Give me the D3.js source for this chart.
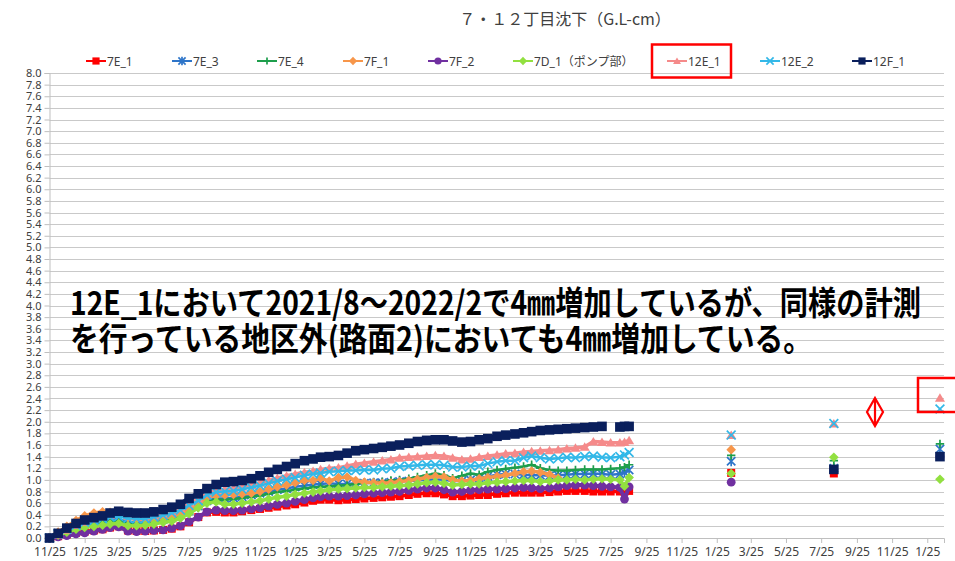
<!DOCTYPE html>
<html><head><meta charset="utf-8">
<script src="https://cdn.jsdelivr.net/npm/d3@7"></script>
<style>html,body{margin:0;padding:0;background:#fff;}svg{display:block;}</style>
</head><body>
<svg id="chart" width="955" height="561"></svg>
<script>
// ---------------- DATA ----------------
const titleText = "７・１２丁目沈下（G.L-cm）";
const seriesNames = ["7E_1","7E_3","7E_4","7F_1","7F_2","7D_1（ポンプ部）","12E_1","12E_2","12F_1"];

const dates = [
"2017-11-25","2017-12-10","2017-12-25","2018-01-10","2018-01-25","2018-02-10","2018-02-25","2018-03-10","2018-03-25","2018-04-10",
"2018-04-25","2018-05-10","2018-05-25","2018-06-10","2018-06-25","2018-07-10","2018-07-25","2018-08-10","2018-08-25","2018-09-10",
"2018-09-25","2018-10-10","2018-10-25","2018-11-10","2018-11-25","2018-12-10","2018-12-25","2019-01-10","2019-01-25","2019-02-10",
"2019-02-25","2019-03-10","2019-03-25","2019-04-10","2019-04-25","2019-05-10","2019-05-25","2019-06-10","2019-06-25","2019-07-10",
"2019-07-25","2019-08-10","2019-08-25","2019-09-10","2019-09-25","2019-10-10","2019-10-25","2019-11-10","2019-11-25","2019-12-10",
"2019-12-25","2020-01-10","2020-01-25","2020-02-10","2020-02-25","2020-03-10","2020-03-25","2020-04-10","2020-04-25","2020-05-10",
"2020-05-25","2020-06-10","2020-06-25","2020-07-10","2020-07-25","2020-08-10","2020-08-18","2020-08-26"];

const v7E_1 = [0,0.03,0.06,0.09,0.11,0.13,0.15,0.18,0.20,0.13,
 0.12,0.12,0.13,0.14,0.16,0.20,0.27,0.36,0.44,0.45,
 0.44,0.44,0.46,0.48,0.50,0.52,0.54,0.56,0.58,0.61,
 0.64,0.66,0.66,0.65,0.66,0.67,0.68,0.69,0.70,0.71,
 0.72,0.74,0.76,0.77,0.77,0.75,0.72,0.72,0.73,0.74,
 0.74,0.76,0.77,0.78,0.78,0.78,0.78,0.79,0.80,0.81,
 0.81,0.81,0.80,0.80,0.80,0.80,0.80,0.81];
const v7E_3 = [0,0.08,0.15,0.20,0.25,0.28,0.30,0.32,0.33,0.28,
 0.27,0.28,0.30,0.32,0.35,0.40,0.47,0.55,0.64,0.68,
 0.68,0.69,0.71,0.74,0.77,0.80,0.83,0.85,0.88,0.90,
 0.92,0.93,0.94,0.93,0.93,0.94,0.94,0.95,0.95,0.96,
 0.97,0.98,0.99,1.00,1.01,1.00,0.98,0.98,1.00,1.03,
 1.06,1.09,1.10,1.10,1.09,1.08,1.08,1.07,1.08,1.09,
 1.10,1.10,1.11,1.10,1.09,1.10,1.13,1.17];
const v7E_4 = [0,0.10,0.18,0.22,0.24,0.26,0.27,0.28,0.29,0.24,
 0.23,0.24,0.26,0.28,0.31,0.36,0.43,0.52,0.62,0.66,
 0.66,0.67,0.69,0.71,0.73,0.76,0.79,0.81,0.83,0.85,
 0.87,0.88,0.89,0.90,0.91,0.93,0.95,0.96,0.97,0.99,
 1.00,1.02,1.05,1.08,1.11,1.08,1.03,1.07,1.11,1.09,
 1.14,1.17,1.19,1.21,1.23,1.26,1.20,1.17,1.16,1.16,
 1.17,1.18,1.18,1.18,1.19,1.20,1.22,1.26];
const v7F_1 = [0,0.10,0.20,0.30,0.38,0.43,0.45,0.44,0.42,0.35,
 0.32,0.31,0.32,0.34,0.37,0.41,0.48,0.58,0.70,0.73,
 0.74,0.75,0.76,0.77,0.80,0.84,0.88,0.91,0.95,0.99,
 0.99,1.03,0.98,1.04,1.05,0.99,0.96,0.95,0.94,0.95,
 0.97,0.99,1.01,1.04,1.06,1.05,1.00,0.98,0.99,1.02,
 1.04,1.06,1.08,1.11,1.14,1.15,1.13,1.09,1.03,null,
 null,null,null,null,null,null,null,null];
const v7F_2 = [0,0.02,0.04,0.07,0.09,0.12,0.15,0.18,0.19,0.12,
 0.11,0.12,0.13,0.14,0.17,0.21,0.28,0.36,0.45,0.48,
 0.47,0.47,0.48,0.50,0.52,0.55,0.58,0.60,0.63,0.66,
 0.69,0.71,0.72,0.72,0.73,0.74,0.76,0.77,0.78,0.79,
 0.80,0.82,0.84,0.86,0.86,0.83,0.79,0.80,0.82,0.83,
 0.84,0.84,0.85,0.86,0.87,0.86,0.85,0.86,0.88,0.90,
 0.91,0.91,0.90,0.89,0.88,0.87,0.67,0.88];
const v7D_1 = [0,0.05,0.10,0.15,0.18,0.20,0.22,0.24,0.25,0.21,
 0.21,0.22,0.24,0.27,0.29,0.34,0.42,0.52,0.60,0.62,
 0.58,0.58,0.60,0.62,0.64,0.67,0.70,0.72,0.75,0.77,
 0.79,0.81,0.83,0.84,0.85,0.86,0.87,0.87,0.88,0.89,
 0.90,0.91,0.93,0.95,0.96,0.94,0.91,0.92,0.93,0.93,
 0.95,0.96,0.97,0.98,0.99,0.99,0.97,0.98,1.00,1.00,
 1.01,1.00,1.01,1.02,1.01,1.00,0.89,1.04];
const v12E_1 = [0,0.06,0.14,0.22,0.28,0.33,0.36,0.40,0.42,0.38,
 0.37,0.37,0.39,0.42,0.46,0.51,0.60,0.68,0.77,0.82,
 0.84,0.85,0.88,0.91,0.95,0.99,1.03,1.07,1.10,1.13,
 1.15,1.18,1.20,1.21,1.24,1.27,1.29,1.31,1.33,1.35,
 1.38,1.39,1.40,1.41,1.42,1.41,1.38,1.35,1.36,1.39,
 1.41,1.43,1.45,1.46,1.48,1.49,1.50,1.51,1.52,1.54,
 1.55,1.57,1.66,1.65,1.64,1.64,1.65,1.68];
const v12E_2 = [0,0.07,0.15,0.22,0.27,0.30,0.33,0.36,0.37,0.34,
 0.33,0.33,0.36,0.39,0.43,0.48,0.56,0.64,0.74,0.79,
 0.80,0.81,0.84,0.87,0.90,0.94,0.98,1.01,1.04,1.08,
 1.10,1.12,1.14,1.15,1.16,1.16,1.17,1.17,1.19,1.20,
 1.23,1.24,1.25,1.26,1.26,1.25,1.22,1.22,1.24,1.24,
 1.28,1.31,1.33,1.33,1.38,1.41,1.38,1.36,1.37,1.39,
 1.38,1.40,1.41,1.39,1.38,1.40,1.43,1.47];
const v12F_1 = [0,0.08,0.17,0.25,0.31,0.35,0.38,0.43,0.46,0.44,
 0.43,0.43,0.45,0.49,0.53,0.58,0.68,0.76,0.85,0.92,
 0.96,0.97,0.99,1.02,1.07,1.13,1.18,1.23,1.28,1.33,
 1.36,1.39,1.40,1.42,1.46,1.50,1.52,1.54,1.56,1.58,
 1.60,1.63,1.66,1.68,1.69,1.69,1.67,1.65,1.66,1.69,
 1.71,1.75,1.77,1.79,1.81,1.83,1.85,1.86,1.87,1.88,
 1.89,1.90,1.91,1.92,null,1.91,1.92,1.92];

// later spot measurements
const spotDates = ["2021-02-19","2021-08-16","2022-02-16"];
const p7E_1  = [1.12, 1.11, 1.40];
const p7E_3  = [1.32, 1.20, 1.53];
const p7E_4  = [1.42, 1.33, 1.62];
const p7F_1  = [1.52, null, null];
const p7F_2  = [0.96, 1.18, 1.40];
const p7D_1  = [1.11, 1.39, 1.01];
const p12E_1 = [1.77, 1.97, 2.41];
const p12E_2 = [1.77, 1.97, 2.22];
const p12F_1 = [null, 1.18, 1.40];

const xTickDates = ["2017-11-25","2018-01-25","2018-03-25","2018-05-25","2018-07-25","2018-09-25","2018-11-25",
"2019-01-25","2019-03-25","2019-05-25","2019-07-25","2019-09-25","2019-11-25","2020-01-25","2020-03-25","2020-05-25",
"2020-07-25","2020-09-25","2020-11-25","2021-01-25","2021-03-25","2021-05-25","2021-07-25","2021-09-25","2021-11-25","2022-01-25"];
const yTicks = [0,0.2,0.4,0.6,0.8,1.0,1.2,1.4,1.6,1.8,2.0,2.2,2.4,2.6,2.8,3.0,3.2,3.4,3.6,3.8,4.0,
 4.2,4.4,4.6,4.8,5.0,5.2,5.4,5.6,5.8,6.0,6.2,6.4,6.6,6.8,7.0,7.2,7.4,7.6,7.8,8.0];

const noteLines = ["12E_1において2021/8～2022/2で4㎜増加しているが、同様の計測",
                   "を行っている地区外(路面2)においても4㎜増加している。"];

// ---------------- STYLE ----------------
const seriesValues = [v7E_1,v7E_3,v7E_4,v7F_1,v7F_2,v7D_1,v12E_1,v12E_2,v12F_1];
const spotValues = [p7E_1,p7E_3,p7E_4,p7F_1,p7F_2,p7D_1,p12E_1,p12E_2,p12F_1];
const colors = ["#FF0000","#2E75C9","#1E9E4C","#F7964A","#7030A0","#92E040","#F58A8A","#33B8E8","#0A1F5C"];
const shapes = ["square","star","plus","diamond","circle","diamond","triangle","x","square"];
const msize  = [4,4.2,4.2,4.2,4.4,4.2,4.6,4.4,4.8];
const lineW  = [3.5,2.5,2.5,3.5,4,3.5,3.5,2.5,5];

// ---------------- CHART ----------------
const svg = d3.select("#chart");
const parse = d3.timeParse("%Y-%m-%d");
const L = 49.5, R = 944, T = 73, B = 538;
const x = d3.scaleTime().domain([parse("2017-11-25"), parse("2022-02-23")]).range([L, R]);
const y = d3.scaleLinear().domain([0, 8]).range([B, T]);

const font = "'Noto Sans', 'Noto Sans CJK JP', sans-serif";

// title
svg.append("text").attr("x", 565).attr("y", 25).attr("text-anchor","middle")
  .attr("font-family","'Noto Sans CJK JP', sans-serif").attr("font-size",16).attr("fill","#404040")
  .text(titleText);

// gridlines
svg.append("g").selectAll("line").data(yTicks.filter(d=>d>0)).join("line")
  .attr("x1", L).attr("x2", R).attr("y1", d=>Math.round(y(d))+0.5).attr("y2", d=>Math.round(y(d))+0.5)
  .attr("stroke","#C9C9C9").attr("stroke-width",1);

// y axis
const gy = svg.append("g").attr("transform",`translate(${L},0)`)
  .call(d3.axisLeft(y).tickValues(yTicks).tickFormat(d3.format(".1f")).tickSize(5).tickPadding(3));
gy.select(".domain").attr("stroke","#BFBFBF");
gy.selectAll(".tick line").attr("stroke","#BFBFBF");
gy.selectAll("text").attr("font-family",font).attr("font-size",11).attr("fill","#404040");

// x axis
const gx = svg.append("g").attr("transform",`translate(0,${B})`)
  .call(d3.axisBottom(x).tickValues(xTickDates.map(parse)).tickFormat(d3.timeFormat("%-m/%-d")).tickSize(5).tickPadding(4));
gx.select(".domain").attr("stroke","#BFBFBF");
gx.selectAll(".tick line").attr("stroke","#BFBFBF");
gx.selectAll("text").attr("font-family",font).attr("font-size",12).attr("fill","#404040");

function markerPath(shape, s){
  switch(shape){
    case "square": return `M${-s},${-s}H${s}V${s}H${-s}Z`;
    case "diamond": return `M0,${-s*1.15}L${s*1.15},0L0,${s*1.15}L${-s*1.15},0Z`;
    case "circle": return d3.symbol(d3.symbolCircle, Math.PI*s*s)();
    case "triangle": return `M0,${-s}L${s*1.1},${s*0.85}L${-s*1.1},${s*0.85}Z`;
    case "plus": return `M${-s},0H${s}M0,${-s}V${s}`;
    case "x": return `M${-s},${-s}L${s},${s}M${-s},${s}L${s},${-s}`;
    case "star": return `M${-s},${-s}L${s},${s}M${-s},${s}L${s},${-s}M0,${-s*1.2}V${s*1.2}`;
  }
}
const stroked = s => (s==="plus"||s==="x"||s==="star");
function drawMarker(g, shape, color, s){
  g.append("path").attr("d", markerPath(shape, s))
    .attr("fill", stroked(shape) ? "none" : color)
    .attr("stroke", stroked(shape) ? color : "none")
    .attr("stroke-width", stroked(shape) ? 1.7 : 0);
}

const plot = svg.append("g");
const line = d3.line().defined(d => d.v != null).x(d => x(d.t)).y(d => y(d.v));
seriesValues.forEach((vals, k) => {
  const pts = vals.map((v, i) => ({t: parse(dates[i]), v}));
  const g = plot.append("g");
  g.append("path").datum(pts).attr("d", line).attr("fill","none")
    .attr("stroke", colors[k]).attr("stroke-width", lineW[k]).attr("stroke-linejoin","round");
  pts.filter(d => d.v != null).forEach(d => {
    const m = g.append("g").attr("transform",`translate(${x(d.t)},${y(d.v)})`);
    drawMarker(m, shapes[k], colors[k], msize[k]);
  });
  spotValues[k].forEach((v, i) => {
    if (v == null) return;
    const m = g.append("g").attr("transform",`translate(${x(parse(spotDates[i]))},${y(v)})`);
    drawMarker(m, shapes[k], colors[k], msize[k]);
  });
});

// legend
const legX = [86,172,257,343,428,513,667,760,852];
const leg = svg.append("g");
seriesNames.forEach((name, k) => {
  const g = leg.append("g").attr("transform",`translate(${legX[k]},61)`);
  g.append("line").attr("x1",0).attr("x2",20).attr("stroke",colors[k]).attr("stroke-width",2);
  const m = g.append("g").attr("transform","translate(10,0)");
  drawMarker(m, shapes[k], colors[k], 3.6);
  g.append("text").attr("x",21).attr("y",4.5).attr("font-family",font).attr("font-size",12)
    .attr("fill","#404040").text(name);
});

// annotation
const note = svg.append("g").attr("font-family","'Noto Sans CJK JP', sans-serif").attr("font-weight",700)
  .attr("font-size",33).attr("fill","#000");
note.append("text").attr("x",70).attr("y",315).attr("textLength",851).attr("lengthAdjust","spacingAndGlyphs").text(noteLines[0]);
note.append("text").attr("x",70).attr("y",351).attr("textLength",742).attr("lengthAdjust","spacingAndGlyphs").text(noteLines[1]);

// highlight boxes and marker
svg.append("rect").attr("x",652).attr("y",44.5).attr("width",79).attr("height",33)
  .attr("fill","none").attr("stroke","#FF0000").attr("stroke-width",2.5);
svg.append("rect").attr("x",918).attr("y",378).attr("width",60).attr("height",34)
  .attr("fill","none").attr("stroke","#FF0000").attr("stroke-width",2.5);
svg.append("path").attr("d","M875,398L883,412L875,426L867,412Z M875,398V426")
  .attr("fill","none").attr("stroke","#FF0000").attr("stroke-width",2.2);
</script>
</body></html>
